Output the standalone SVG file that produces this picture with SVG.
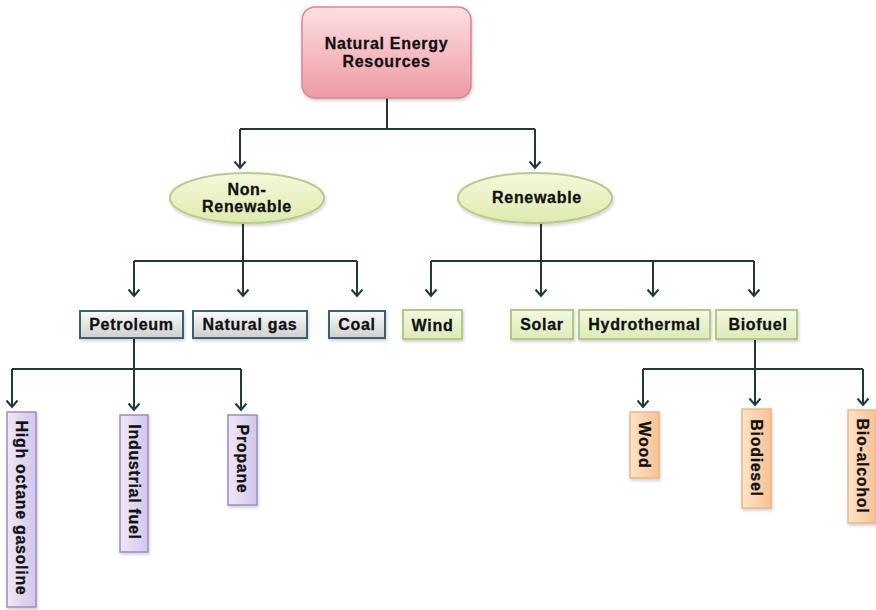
<svg xmlns="http://www.w3.org/2000/svg" width="876" height="610" viewBox="0 0 876 610">
  <defs>
    <linearGradient id="gPink" x1="0" y1="0" x2="0" y2="1">
      <stop offset="0" stop-color="#fce0e2"/>
      <stop offset="1" stop-color="#ee9aa2"/>
    </linearGradient>
    <linearGradient id="gOval" x1="0" y1="0" x2="0" y2="1">
      <stop offset="0" stop-color="#f5f9dc"/>
      <stop offset="1" stop-color="#dfeaae"/>
    </linearGradient>
    <linearGradient id="gGray" x1="0" y1="0" x2="0" y2="1">
      <stop offset="0" stop-color="#fbfbfb"/>
      <stop offset="1" stop-color="#cfcfcf"/>
    </linearGradient>
    <linearGradient id="gGreen" x1="0" y1="0" x2="0" y2="1">
      <stop offset="0" stop-color="#f3f9e2"/>
      <stop offset="1" stop-color="#dcebb8"/>
    </linearGradient>
    <linearGradient id="gPurple" x1="0" y1="0" x2="1" y2="0">
      <stop offset="0" stop-color="#efe8f7"/>
      <stop offset="1" stop-color="#d3c6ea"/>
    </linearGradient>
    <linearGradient id="gOrange" x1="0" y1="0" x2="1" y2="0">
      <stop offset="0" stop-color="#fde3c8"/>
      <stop offset="1" stop-color="#f7c293"/>
    </linearGradient>
    <filter id="shadow" x="-20%" y="-20%" width="140%" height="140%">
      <feDropShadow dx="1" dy="2" stdDeviation="1.5" flood-color="#000" flood-opacity="0.18"/>
    </filter>
    <!-- downward open chevron head, tip at the line end -->
    <marker id="arrow" markerUnits="userSpaceOnUse" markerWidth="14" markerHeight="12" viewBox="0 0 14 12" refX="7" refY="10" orient="0">
      <path d="M1.5,3.5 L7,10 L12.5,3.5" fill="none" stroke="#1f3940" stroke-width="2"/>
    </marker>
  </defs>
  <style>
    .lbl { font-family: "Liberation Sans", Arial, sans-serif; font-weight: bold; font-size: 16px; letter-spacing: 0.7px; fill: #111; stroke: #111; stroke-width: 0.3px; text-anchor: middle; }
    .conn { fill: none; stroke: #1f3940; stroke-width: 2; }
    .arr { fill: none; stroke: #1f3940; stroke-width: 2; marker-end: url(#arrow); }
    .root { fill: url(#gPink); stroke: #e0838d; stroke-width: 1.5; filter: url(#shadow); }
    .oval { fill: url(#gOval); stroke: #b5cd88; stroke-width: 2; filter: url(#shadow); }
    .gray { fill: url(#gGray); stroke: #3b6070; stroke-width: 2; filter: url(#shadow); }
    .green { fill: url(#gGreen); stroke: #afca85; stroke-width: 2; filter: url(#shadow); }
    .purple { fill: url(#gPurple); stroke: #9a8cc6; stroke-width: 1.5; filter: url(#shadow); }
    .orange { fill: url(#gOrange); stroke: #ebb686; stroke-width: 1.5; filter: url(#shadow); }
  </style>

  <rect width="876" height="610" fill="#ffffff"/>

  <!-- connectors -->
  <g id="connectors">
    <path class="conn" d="M387,98 V129 H240 M387,129 H535"/>
    <path class="arr" d="M240,129 V168"/>
    <path class="arr" d="M535,129 V168"/>

    <path class="conn" d="M243,223 V261 H134 M243,261 H357"/>
    <path class="arr" d="M134,261 V296"/>
    <path class="arr" d="M243,261 V296"/>
    <path class="arr" d="M357,261 V296"/>

    <path class="conn" d="M541,223 V261 H431 M541,261 H754"/>
    <path class="arr" d="M431,261 V296"/>
    <path class="arr" d="M541,261 V296"/>
    <path class="arr" d="M653,261 V296"/>
    <path class="arr" d="M754,261 V296"/>

    <path class="conn" d="M134,338 V369 H12 M134,369 H241"/>
    <path class="arr" d="M12,369 V407"/>
    <path class="arr" d="M134,369 V410"/>
    <path class="arr" d="M241,369 V410"/>

    <path class="conn" d="M755,339 V369 H643 M755,369 H863"/>
    <path class="arr" d="M643,369 V407"/>
    <path class="arr" d="M755,369 V405"/>
    <path class="arr" d="M863,369 V405"/>
  </g>

  <!-- top level -->
  <g id="root">
    <rect class="root" x="302" y="7" width="169" height="91" rx="13"/>
    <text class="lbl" x="386.5" y="49">Natural Energy</text>
    <text class="lbl" x="386.5" y="67">Resources</text>
  </g>

  <!-- categories -->
  <g id="non-renewable">
    <ellipse class="oval" cx="247" cy="198" rx="77" ry="25"/>
    <text class="lbl" x="247" y="195">Non-</text>
    <text class="lbl" x="247" y="212">Renewable</text>
  </g>
  <g id="renewable">
    <ellipse class="oval" cx="535" cy="198" rx="77" ry="25"/>
    <text class="lbl" x="537" y="203">Renewable</text>
  </g>

  <!-- non-renewable sources -->
  <g id="petroleum">
    <rect class="gray" x="80" y="311" width="103" height="27"/>
    <text class="lbl" x="131.5" y="330">Petroleum</text>
  </g>
  <g id="natural-gas">
    <rect class="gray" x="193" y="311" width="114" height="27"/>
    <text class="lbl" x="250" y="329.5">Natural gas</text>
  </g>
  <g id="coal">
    <rect class="gray" x="329" y="311" width="56" height="27"/>
    <text class="lbl" x="357" y="329.5">Coal</text>
  </g>

  <!-- renewable sources -->
  <g id="wind">
    <rect class="green" x="403" y="310" width="59" height="29"/>
    <text class="lbl" x="432.5" y="330.5">Wind</text>
  </g>
  <g id="solar">
    <rect class="green" x="511" y="310" width="62" height="29"/>
    <text class="lbl" x="542" y="330">Solar</text>
  </g>
  <g id="hydrothermal">
    <rect class="green" x="579" y="310" width="131" height="29"/>
    <text class="lbl" x="644.5" y="330">Hydrothermal</text>
  </g>
  <g id="biofuel">
    <rect class="green" x="716" y="310" width="81" height="29"/>
    <text class="lbl" x="758" y="330">Biofuel</text>
  </g>

  <!-- petroleum products -->
  <g id="high-octane-gasoline">
    <rect class="purple" x="7" y="412" width="29" height="195"/>
    <text class="lbl" transform="translate(15.5,508) rotate(90)">High octane gasoline</text>
  </g>
  <g id="industrial-fuel">
    <rect class="purple" x="120" y="415" width="28" height="137"/>
    <text class="lbl" transform="translate(128.5,482) rotate(90)">Industrial fuel</text>
  </g>
  <g id="propane">
    <rect class="purple" x="228" y="415" width="29" height="90"/>
    <text class="lbl" transform="translate(237,459) rotate(90)">Propane</text>
  </g>

  <!-- biofuel products -->
  <g id="wood">
    <rect class="orange" x="630" y="412" width="29" height="66"/>
    <text class="lbl" transform="translate(639,445) rotate(90)">Wood</text>
  </g>
  <g id="biodiesel">
    <rect class="orange" x="742" y="409" width="29" height="99"/>
    <text class="lbl" transform="translate(751,458) rotate(90)">Biodiesel</text>
  </g>
  <g id="bio-alcohol">
    <rect class="orange" x="848" y="410" width="28" height="113"/>
    <text class="lbl" transform="translate(857,466) rotate(90)">Bio-alcohol</text>
  </g>
</svg>
